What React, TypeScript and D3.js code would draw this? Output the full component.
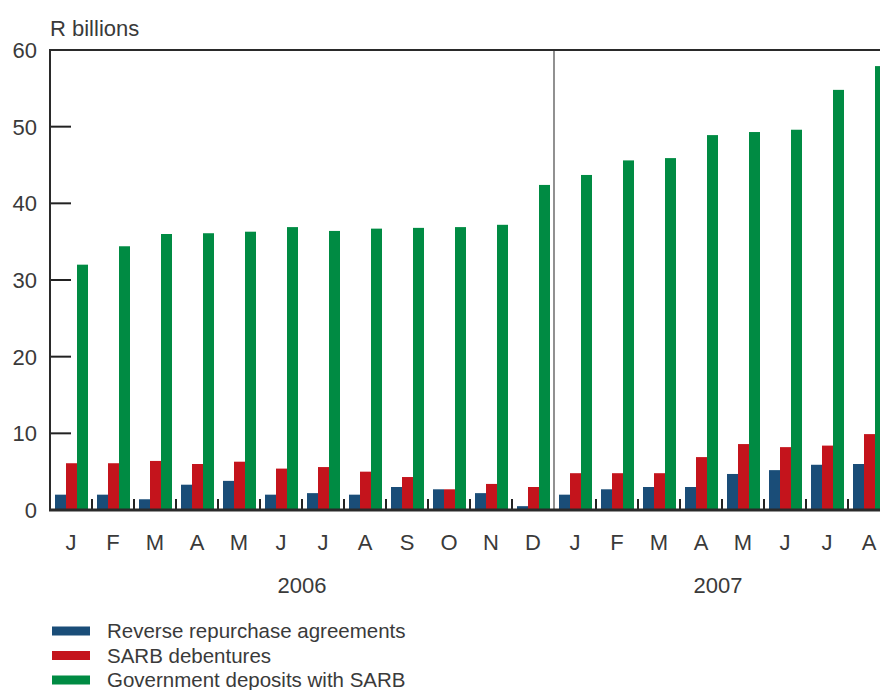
import React from "react";
import * as d3 from "d3";

const months = ["J", "F", "M", "A", "M", "J", "J", "A", "S", "O", "N", "D", "J", "F", "M", "A", "M", "J", "J", "A"];
const years = [
  { label: "2006", start: 0, end: 12 },
  { label: "2007", start: 12, end: 20 },
];
const reverseRepo = [2.0, 2.0, 1.4, 3.3, 3.8, 2.0, 2.2, 2.0, 3.0, 2.7, 2.2, 0.5, 2.0, 2.7, 3.0, 3.0, 4.7, 5.2, 5.9, 6.0];
const sarbDebentures = [6.1, 6.1, 6.4, 6.0, 6.3, 5.4, 5.6, 5.0, 4.3, 2.7, 3.4, 3.0, 4.8, 4.8, 4.8, 6.9, 8.6, 8.2, 8.4, 9.9];
const govDeposits = [32.0, 34.4, 36.0, 36.1, 36.3, 36.9, 36.4, 36.7, 36.8, 36.9, 37.2, 42.4, 43.7, 45.6, 45.9, 48.9, 49.3, 49.6, 54.8, 57.9];
const yTicks = [0, 10, 20, 30, 40, 50, 60];
const seriesNames = ["Reverse repurchase agreements", "SARB debentures", "Government deposits with SARB"];
const seriesColors = ["#1a4d78", "#c4141c", "#008b43"];

export default function App() {
  const W = 880, H = 690;
  const left = 50, top = 50, bottom = 510;
  const band = 42;
  const x0 = d3.scaleBand<number>().domain(d3.range(20)).range([left, left + band * 20]).paddingInner(0).paddingOuter(0);
  const y = d3.scaleLinear().domain([0, 60]).range([bottom, top]);
  const series = [reverseRepo, sarbDebentures, govDeposits];
  const barW = 11;
  const font = "'Liberation Sans', Arial, sans-serif";
  const textColor = "#3a3a3a";

  return (
    <svg width={W} height={H} style={{ position: "absolute", left: 0, top: 0 }} fontFamily={font}>
      <text x={50} y={36} fontSize={22} fill={textColor}>R billions</text>
      {/* bars */}
      <g>
        {series.map((vals, si) =>
          vals.map((v, i) => (
            <rect
              key={`${si}-${i}`}
              x={(x0(i) as number) + 5 + si * barW}
              y={y(v)}
              width={barW}
              height={bottom - y(v)}
              fill={seriesColors[si]}
            />
          ))
        )}
      </g>
      {/* y ticks */}
      {yTicks.map((t) => (
        <g key={t}>
          {t > 0 && t < 60 && <line x1={left} x2={left + 21} y1={y(t)} y2={y(t)} stroke="#222" strokeWidth={2} />}
          <text x={37} y={y(t)} dy="0.36em" textAnchor="end" fontSize={22} fill={textColor}>{t}</text>
        </g>
      ))}
      {/* x boundary ticks */}
      {d3.range(1, 20).filter((i) => i !== 12).map((i) => (
        <line key={i} x1={x0(i) as number} x2={x0(i) as number} y1={bottom - 11} y2={bottom} stroke="#222" strokeWidth={2} />
      ))}
      {/* year separator */}
      <line x1={x0(12) as number} x2={x0(12) as number} y1={top} y2={bottom} stroke="#555" strokeWidth={1.3} />
      {/* frame */}
      <line x1={left} x2={W} y1={top} y2={top} stroke="#2a2a2a" strokeWidth={2} />
      <line x1={left} x2={left} y1={top - 1} y2={bottom + 1} stroke="#2a2a2a" strokeWidth={2} />
      <line x1={left - 1} x2={W} y1={bottom} y2={bottom} stroke="#2a2a2a" strokeWidth={3} />
      {/* month labels */}
      {months.map((m, i) => (
        <text key={i} x={(x0(i) as number) + band / 2} y={550} textAnchor="middle" fontSize={22} fill={textColor}>{m}</text>
      ))}
      {years.map((yr) => (
        <text key={yr.label} x={yr.label === "2006" ? ((x0(yr.start) as number) + (x0(yr.end - 1) as number) + band) / 2 : 718} y={593} textAnchor="middle" fontSize={22} fill={textColor}>{yr.label}</text>
      ))}
      {/* legend */}
      {seriesNames.map((n, i) => (
        <g key={n} transform={`translate(52, ${631 + i * 24.5})`}>
          <rect x={0} y={-4.5} width={38} height={9} fill={seriesColors[i]} />
          <text x={55} y={0} dy="0.36em" fontSize={20.5} fill={textColor}>{n}</text>
        </g>
      ))}
    </svg>
  );
}
